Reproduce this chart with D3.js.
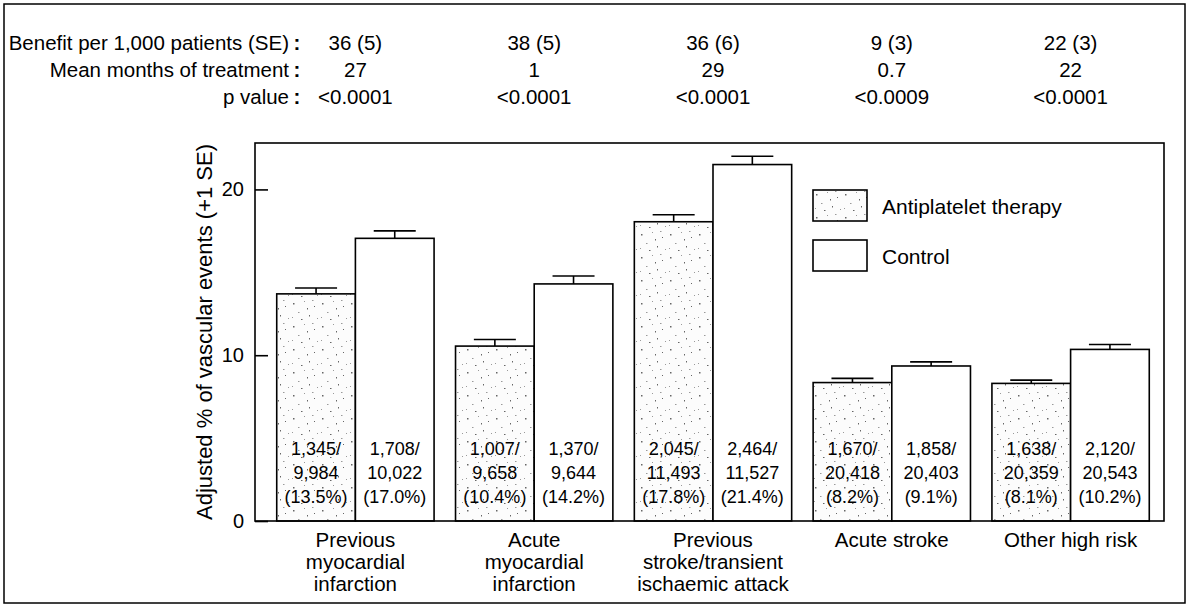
<!DOCTYPE html>
<html>
<head>
<meta charset="utf-8">
<script src="https://cdn.jsdelivr.net/npm/d3@7"></script>
<style>
  body { margin: 0; background: #fff; }
  svg { display: block; font-family: "Liberation Sans", Arial, Helvetica, sans-serif; }
</style>
</head>
<body>
<svg id="chart" width="1188" height="614"></svg>
<script>
var groups = ["pmi", "ami", "pst", "ast", "ohr"];
var groupLabels = [
  ["Previous", "myocardial", "infarction"],
  ["Acute", "myocardial", "infarction"],
  ["Previous", "stroke/transient", "ischaemic attack"],
  ["Acute stroke"],
  ["Other high risk"]
];
var series = ["Antiplatelet therapy", "Control"];

// adjusted % of vascular events
var antiplatelet = [13.7, 10.55, 18.05, 8.35, 8.3];
var antiplateletSE = [0.35, 0.4, 0.42, 0.25, 0.2];
var control = [17.05, 14.3, 21.5, 9.35, 10.35];
var controlSE = [0.45, 0.48, 0.5, 0.25, 0.3];

// events / patients printed in the bars
var apEvents = ["1,345/", "1,007/", "2,045/", "1,670/", "1,638/"];
var apPatients = ["9,984", "9,658", "11,493", "20,418", "20,359"];
var apPct = ["(13.5%)", "(10.4%)", "(17.8%)", "(8.2%)", "(8.1%)"];
var ctEvents = ["1,708/", "1,370/", "2,464/", "1,858/", "2,120/"];
var ctPatients = ["10,022", "9,644", "11,527", "20,403", "20,543"];
var ctPct = ["(17.0%)", "(14.2%)", "(21.4%)", "(9.1%)", "(10.2%)"];

// header table
var rowLabels = ["Benefit per 1,000 patients (SE)", "Mean months of treatment", "p value"];
var benefit = ["36 (5)", "38 (5)", "36 (6)", "9 (3)", "22 (3)"];
var months = ["27", "1", "29", "0.7", "22"];
var pValues = ["<0.0001", "<0.0001", "<0.0001", "<0.0009", "<0.0001"];

var yTicks = [0, 10, 20];
var yTitle = "Adjusted % of vascular events (+1 SE)";

var svg = d3.select("#chart");

var plot = { left: 255, right: 1164, top: 143, bottom: 521 };

var x0 = d3.scaleBand()
  .domain(groups)
  .range([266, 1160])
  .paddingInner(0.12)
  .paddingOuter(0.06);

var x1 = d3.scaleBand()
  .domain(series)
  .range([0, x0.bandwidth()]);

var y = d3.scaleLinear()
  .domain([0, 22.8])
  .range([plot.bottom, plot.top]);

// sparse stipple for the antiplatelet bars (scanned screen look)
var defs = svg.append("defs");
var pat = defs.append("pattern")
  .attr("id", "stipple")
  .attr("patternUnits", "userSpaceOnUse")
  .attr("width", 29)
  .attr("height", 23);
pat.append("rect").attr("width", 29).attr("height", 23).attr("fill", "#fcfcfc");
[[3, 4], [14, 2], [24, 7], [8, 13], [19, 16], [27, 19], [11, 20], [2, 18],
 [17, 9], [22, 1]].forEach(function (p, i) {
  pat.append("rect")
    .attr("x", p[0]).attr("y", p[1])
    .attr("width", i % 3 ? 1 : 1.5).attr("height", i % 4 ? 1 : 1.5)
    .attr("fill", i % 2 ? "#9a9a9a" : "#666");
});

// outer frame
svg.append("rect")
  .attr("x", 4).attr("y", 4)
  .attr("width", 1181).attr("height", 599)
  .attr("fill", "none")
  .attr("stroke", "#000")
  .attr("stroke-width", 1.5);

// header table
var rows = [benefit, months, pValues];
var rowY = [50, 77, 104];

var header = svg.append("g").attr("class", "header").attr("font-size", 20.5);

rows.forEach(function (vals, r) {
  header.append("text")
    .attr("x", 289)
    .attr("y", rowY[r])
    .attr("text-anchor", "end")
    .text(rowLabels[r]);
  header.append("text")
    .attr("x", 297)
    .attr("y", rowY[r])
    .attr("text-anchor", "middle")
    .attr("font-weight", "bold")
    .text(":");
  header.selectAll(null)
    .data(vals)
    .enter()
    .append("text")
    .attr("x", function (d, i) { return x0(groups[i]) + x0.bandwidth() / 2; })
    .attr("y", rowY[r])
    .attr("text-anchor", "middle")
    .text(function (d) { return d; });
});

// bars
var data = [];
groups.forEach(function (g, i) {
  data.push({ group: g, series: series[0], value: antiplatelet[i], se: antiplateletSE[i],
    lines: [apEvents[i], apPatients[i], apPct[i]] });
  data.push({ group: g, series: series[1], value: control[i], se: controlSE[i],
    lines: [ctEvents[i], ctPatients[i], ctPct[i]] });
});

var barX = function (d) { return x0(d.group) + x1(d.series); };
var barC = function (d) { return barX(d) + x1.bandwidth() / 2; };

var bars = svg.append("g").attr("class", "bars");

bars.selectAll("rect")
  .data(data)
  .enter()
  .append("rect")
  .attr("x", barX)
  .attr("y", function (d) { return y(d.value); })
  .attr("width", x1.bandwidth())
  .attr("height", function (d) { return y(0) - y(d.value); })
  .attr("fill", function (d) { return d.series === series[0] ? "url(#stipple)" : "#fff"; })
  .attr("stroke", "#000")
  .attr("stroke-width", 1.6);

// error bars (+1 SE)
var capW = 42;
var err = svg.append("g").attr("class", "errors")
  .attr("stroke", "#000")
  .attr("stroke-width", 1.6);

err.selectAll("line.v")
  .data(data)
  .enter()
  .append("line")
  .attr("class", "v")
  .attr("x1", barC).attr("x2", barC)
  .attr("y1", function (d) { return y(d.value); })
  .attr("y2", function (d) { return y(d.value + d.se); });

err.selectAll("line.c")
  .data(data)
  .enter()
  .append("line")
  .attr("class", "c")
  .attr("x1", function (d) { return barC(d) - capW / 2; })
  .attr("x2", function (d) { return barC(d) + capW / 2; })
  .attr("y1", function (d) { return y(d.value + d.se); })
  .attr("y2", function (d) { return y(d.value + d.se); });

// counts inside bars
var counts = svg.append("g").attr("class", "counts").attr("font-size", 18);
data.forEach(function (d) {
  d.lines.forEach(function (t, k) {
    counts.append("text")
      .attr("x", barC(d))
      .attr("y", y(0) - 66 + k * 24)
      .attr("text-anchor", "middle")
      .text(t);
  });
});

// plot frame
svg.append("rect")
  .attr("x", plot.left).attr("y", plot.top)
  .attr("width", plot.right - plot.left)
  .attr("height", plot.bottom - plot.top)
  .attr("fill", "none")
  .attr("stroke", "#000")
  .attr("stroke-width", 1.6);

// y axis, ticks pointing inwards
var yAxis = svg.append("g")
  .attr("transform", "translate(" + plot.left + ",0)")
  .call(d3.axisLeft(y).tickValues(yTicks).tickSizeInner(-13).tickSizeOuter(0).tickPadding(11));
yAxis.select(".domain").remove();
yAxis.selectAll("line").attr("stroke-width", 1.6);
yAxis.selectAll("text")
  .attr("font-size", 20)
  .attr("font-family", "\"Liberation Sans\", Arial, sans-serif")
  .attr("fill", "#000");

svg.append("text")
  .attr("transform", "translate(212," + ((plot.top + plot.bottom) / 2) + ") rotate(-90)")
  .attr("text-anchor", "middle")
  .attr("font-size", 22)
  .text(yTitle);

// category labels
var cats = svg.append("g").attr("class", "cats").attr("font-size", 20.5);
groupLabels.forEach(function (lines, i) {
  lines.forEach(function (t, k) {
    cats.append("text")
      .attr("x", x0(groups[i]) + x0.bandwidth() / 2)
      .attr("y", 547 + k * 22)
      .attr("text-anchor", "middle")
      .text(t);
  });
});

// legend
var legend = svg.append("g").attr("class", "legend")
  .attr("transform", "translate(813,190)");
var item = legend.selectAll("g")
  .data(series)
  .enter()
  .append("g")
  .attr("transform", function (d, i) { return "translate(0," + i * 50 + ")"; });
item.append("rect")
  .attr("width", 54)
  .attr("height", 31)
  .attr("fill", function (d, i) { return i === 0 ? "url(#stipple)" : "#fff"; })
  .attr("stroke", "#000")
  .attr("stroke-width", 1.6);
item.append("text")
  .attr("x", 69)
  .attr("y", 24)
  .attr("font-size", 21)
  .text(function (d) { return d; });
</script>
</body>
</html>
